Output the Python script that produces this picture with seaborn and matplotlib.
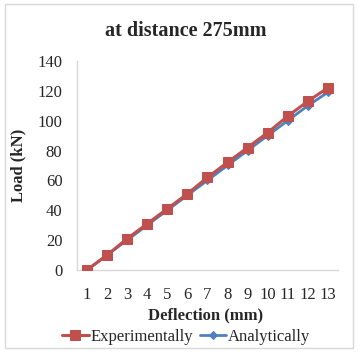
import pandas as pd
import seaborn as sns
import matplotlib.pyplot as plt
from matplotlib.patches import Rectangle

# Data
deflection = list(range(1, 14))
experimentally = [0, 10, 21, 31, 41, 51, 62, 72, 82, 92, 103, 113, 122]
analytically = [0, 10, 20, 30, 40, 50, 60, 70, 80, 90, 100, 110, 119]
y_ticks = [0, 20, 40, 60, 80, 100, 120, 140]

df = pd.DataFrame({
    'pos': range(len(deflection)),
    'Experimentally': experimentally,
    'Analytically': analytically,
})

sns.set_style('white')
plt.rcParams['font.family'] = ['Liberation Serif', 'DejaVu Serif']

fig = plt.figure(figsize=(3.58, 3.52), dpi=100)
ax = fig.add_axes([0.215, 0.233, 0.729, 0.594])

sns.lineplot(data=df, x='pos', y='Analytically', ax=ax, color='#4F81BD',
             marker='D', markersize=4, markeredgecolor='#4F81BD', linewidth=2,
             label='Analytically', zorder=2)
sns.lineplot(data=df, x='pos', y='Experimentally', ax=ax, color='#C0504D',
             marker='s', markersize=7.5, markeredgecolor='#C0504D', linewidth=2.2,
             label='Experimentally', zorder=3)

ax.set_xlim(-0.5, len(deflection) - 0.5)
ax.set_ylim(0, 140)
ax.set_xticks(range(len(deflection)))
ax.set_xticklabels([str(d) for d in deflection], fontsize=12)
ax.set_yticks(y_ticks)
ax.set_yticklabels([str(t) for t in y_ticks], fontsize=12)
ax.tick_params(axis='x', length=0, pad=12)
ax.tick_params(axis='y', length=0, pad=10.5)

for side in ['top', 'right']:
    ax.spines[side].set_visible(False)
for side in ['left', 'bottom']:
    ax.spines[side].set_color('#D9D9D9')
    ax.spines[side].set_linewidth(1)

ax.set_xlabel('')
ax.set_ylabel('')
fig.text(0.05, 0.53, 'Load (kN)', rotation=90, ha='center', va='center',
         fontsize=12, fontweight='bold')
fig.text(0.575, 0.105, 'Deflection (mm)', ha='center', va='center',
         fontsize=12, fontweight='bold')
fig.text(0.52, 0.912, 'at distance 275mm', ha='center', va='center',
         fontsize=14.5, fontweight='bold')

handles, labels = ax.get_legend_handles_labels()
ax.legend(handles[::-1], labels[::-1], loc='center', bbox_to_anchor=(0.52, 0.044),
          bbox_transform=fig.transFigure, ncol=2, frameon=False, fontsize=12,
          handlelength=1.6, handletextpad=0.1, columnspacing=0.4)

fig.patches.append(Rectangle((0.013, 0.011), 0.974, 0.977, transform=fig.transFigure,
                             fill=False, edgecolor='#D9D9D9', linewidth=1))

fig.savefig('out.png', dpi=100)
